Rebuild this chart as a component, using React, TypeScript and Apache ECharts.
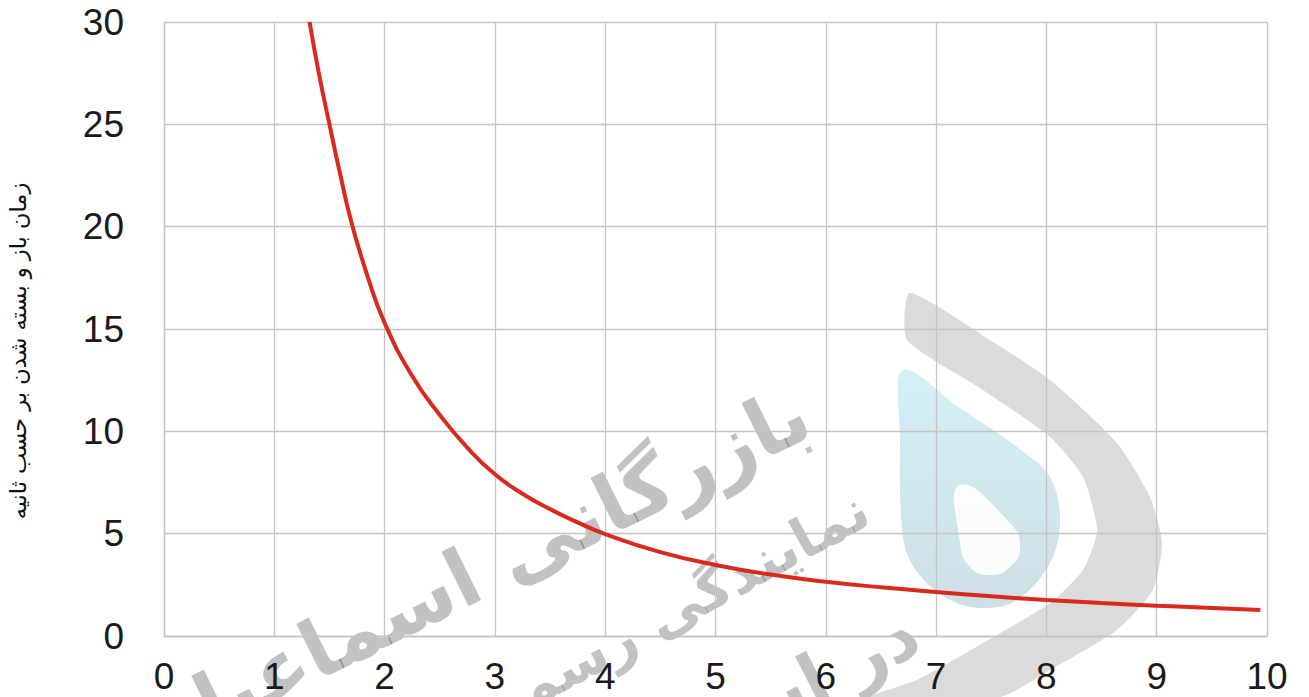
import React, { useEffect, useRef } from "react";
import * as echarts from "echarts";

const xValues = [1.32, 1.4, 1.5, 1.6, 1.7, 1.85, 2, 2.25, 2.5, 2.75, 3, 3.25, 3.5, 3.75, 4, 4.5, 5, 5.5, 6, 6.5, 7, 7.5, 8, 8.5, 9, 9.5, 9.94];
const yValues = [30, 27.6, 25, 22.5, 20.2, 17.5, 15.3, 12.7, 10.8, 9.2, 7.9, 6.95, 6.2, 5.55, 4.98, 4.1, 3.47, 3.0, 2.65, 2.38, 2.15, 1.94, 1.76, 1.61, 1.48, 1.37, 1.27];
const yAxisTitle = "زمان باز و بسته شدن بر حسب ثانیه";
const watermarkLines = ["بازرگانی اسماعیل زاده", "نمایندگی رسمی شرکت", "در استان"];

export default function App() {
  const ref = useRef<HTMLDivElement>(null);
  useEffect(() => {
    document.body.style.margin = "0";
    const chart = echarts.init(ref.current!, null, { renderer: "svg" });
    const data = xValues.map((x, i) => [x, yValues[i]]);
    const tickFont = { fontFamily: "Liberation Sans, Arial, sans-serif", fontSize: 37, color: "#1a1a1a" };
    chart.setOption({
      animation: false,
      backgroundColor: "#ffffff",
      grid: { left: 164, right: 42, top: 22, bottom: 61, containLabel: false },
      xAxis: {
        type: "value",
        min: 0,
        max: 10,
        interval: 1,
        axisLine: { show: true, lineStyle: { color: "#c4c4c4", width: 1.3 } },
        axisTick: { show: false },
        splitLine: { show: true, lineStyle: { color: "#c4c4c4", width: 1.3 } },
        axisLabel: { ...tickFont, margin: 22 },
      },
      yAxis: {
        type: "value",
        min: 0,
        max: 30,
        interval: 5,
        axisLine: { show: true, lineStyle: { color: "#c4c4c4", width: 1.3 } },
        axisTick: { show: false },
        splitLine: { show: true, lineStyle: { color: "#c4c4c4", width: 1.3 } },
        axisLabel: { ...tickFont, margin: 40 },
      },
      series: [
        {
          type: "line",
          data,
          smooth: 0.5,
          showSymbol: false,
          symbol: "none",
          lineStyle: { color: "#da2a1e", width: 4 },
          z: 3,
        },
      ],
      graphic: [
        {
          type: "text",
          x: 18,
          y: 351,
          rotation: Math.PI / 2,
          style: {
            text: yAxisTitle,
            fontFamily: "DejaVu Sans, sans-serif",
            fontSize: 22.5,
            fill: "#111",
            textAlign: "center",
            textVerticalAlign: "middle",
          },
        },
        {
          type: "group",
          z: 100,
          children: [
            {
              type: "polygon",
              shape: {
                smooth: 0.2,
                points: [
                  [910, 293], [990, 340], [1050, 380], [1117, 443], [1150, 497], [1162, 543], [1153, 590],
                  [1117, 630], [1050, 670], [1000, 697], [870, 697], [917, 680], [983, 643],
                  [1050, 603], [1083, 570], [1097, 530], [1083, 477], [1050, 437], [980, 388], [907, 340],
                ],
              },
              style: { fill: "rgba(0,0,0,0.14)" },
            },
            {
              type: "polygon",
              shape: {
                smooth: 0.35,
                points: [
                  [903, 370], [960, 408], [1017, 447], [1050, 477], [1060, 520], [1050, 563], [1017, 600],
                  [983, 608], [950, 600], [917, 572], [903, 537], [900, 437],
                ],
              },
              style: {
                fill: new echarts.graphic.LinearGradient(0, 0, 0, 1, [
                  { offset: 0, color: "rgba(110,200,225,0.3)" },
                  { offset: 1, color: "rgba(90,150,170,0.3)" },
                ]),
              },
            },
            {
              type: "polygon",
              shape: {
                smooth: 0.5,
                points: [[960, 485], [1010, 523], [1020, 547], [1010, 567], [990, 575], [970, 567], [960, 543]],
              },
              style: { fill: "#ffffff", opacity: 0.9 },
            },
            {
              type: "text",
              x: 822,
              y: 445,
              rotation: 0.46,
              style: {
                text: watermarkLines[0],
                fontFamily: "DejaVu Sans, sans-serif",
                fontWeight: "bold",
                fontSize: 80,
                fill: "rgba(0,0,0,0.24)",
                textAlign: "right",
                textVerticalAlign: "bottom",
              },
            },
            {
              type: "text",
              x: 878,
              y: 530,
              rotation: 0.5,
              style: {
                text: watermarkLines[1],
                fontFamily: "DejaVu Sans, sans-serif",
                fontWeight: "bold",
                fontSize: 56,
                fill: "rgba(0,0,0,0.24)",
                textAlign: "right",
                textVerticalAlign: "bottom",
              },
            },
            {
              type: "text",
              x: 930,
              y: 660,
              rotation: 0.47,
              style: {
                text: watermarkLines[2],
                fontFamily: "DejaVu Sans, sans-serif",
                fontWeight: "bold",
                fontSize: 70,
                fill: "rgba(0,0,0,0.24)",
                textAlign: "right",
                textVerticalAlign: "bottom",
              },
            },
          ],
        },
      ],
    });
    return () => chart.dispose();
  }, []);
  return <div ref={ref} style={{ position: "fixed", left: 0, top: 0, width: 1309, height: 697 }} />;
}
